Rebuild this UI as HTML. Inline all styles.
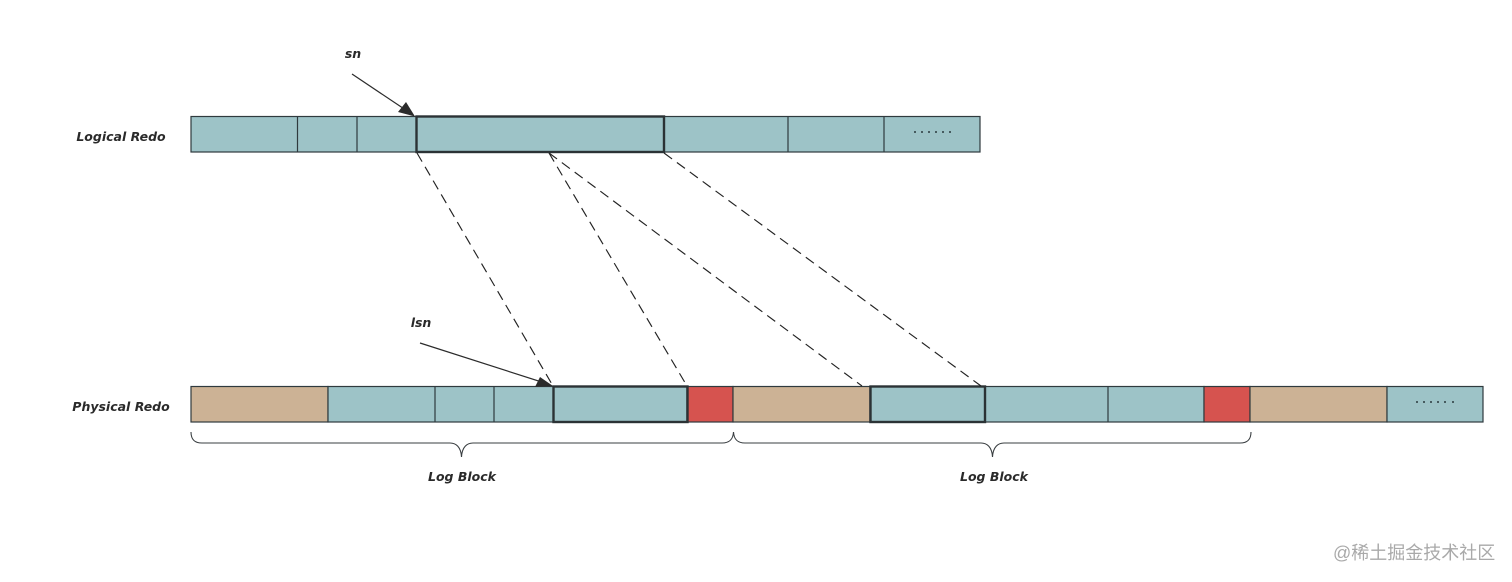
<!DOCTYPE html>
<html><head><meta charset="utf-8"><style>
html,body{margin:0;padding:0;background:#fff}
svg{display:block}
.l{font-family:"DejaVu Sans","Liberation Sans",sans-serif;font-style:italic;font-weight:bold;font-size:12.5px;fill:#2a2a2a;text-anchor:middle}
.c{stroke:#2f3a3e;stroke-width:1.2}
</style></head><body>
<svg width="1512" height="582" viewBox="0 0 1512 582" xmlns="http://www.w3.org/2000/svg">
<rect width="1512" height="582" fill="#fff"/>
<g class="c">
<rect x="191" y="116.5" width="789" height="35.5" fill="#9dc3c7"/>
<path d="M297.500 116.500V152M357 116.500V152M788 116.500V152M884 116.500V152" fill="none"/>
<rect x="191" y="386.5" width="137" height="35.5" fill="#ccb295"/>
<rect x="328" y="386.5" width="359" height="35.5" fill="#9dc3c7"/>
<rect x="687" y="386.5" width="46" height="35.5" fill="#d6534f"/>
<rect x="733" y="386.5" width="137" height="35.5" fill="#ccb295"/>
<rect x="870" y="386.5" width="334" height="35.5" fill="#9dc3c7"/>
<rect x="1204" y="386.5" width="46" height="35.5" fill="#d6534f"/>
<rect x="1250" y="386.5" width="137" height="35.5" fill="#ccb295"/>
<rect x="1387" y="386.5" width="96" height="35.5" fill="#9dc3c7"/>
<path d="M435 386.500V422M494 386.500V422M1108 386.500V422" fill="none"/>
</g>
<g fill="none" stroke="#2b3235" stroke-width="2.4">
<rect x="416.5" y="116.5" width="247.5" height="35.5"/>
<rect x="553.5" y="386.5" width="134" height="35.5"/>
<rect x="870.5" y="386.5" width="114.5" height="35.5"/>
</g>
<g fill="none" stroke="#222" stroke-width="1.15" stroke-dasharray="10 6">
<path d="M417 153L553 386"/>
<path d="M549 153L687 386"/>
<path d="M549 153L862 386"/>
<path d="M664 153L981 386"/>
</g>
<g stroke="#2b2b2b" stroke-width="1.2" fill="none">
<path d="M352 74L405 109.500"/>
<path d="M420 343L540 381.500"/>
</g>
<path d="M415 116.500L398 112L406 102Z" fill="#2b2b2b"/>
<path d="M553 386L535 387L540 377Z" fill="#2b2b2b"/>
<g fill="none" stroke="#3a3f42" stroke-width="1.1">
<path d="M191 432C191 440 195 443 202 443H450C456 443 461 447 461.500 457C462 447 467 443 473 443H722C729 443 733 440 733.500 432"/>
<path d="M733.500 432C734 440 738 443 745 443H981C987 443 992 447 992.500 457C993 447 998 443 1004 443H1240C1247 443 1251 440 1251 432"/>
</g>
<text class="l" x="353" y="58">sn</text>
<text class="l" x="421" y="327">lsn</text>
<text class="l" x="121" y="141">Logical Redo</text>
<text class="l" x="121" y="411">Physical Redo</text>
<text class="l" x="462" y="481">Log Block</text>
<text class="l" x="994" y="481">Log Block</text>
<g fill="#2b3a3e">
<circle cx="915" cy="132" r="1"/><circle cx="922" cy="132" r="1"/><circle cx="929" cy="132" r="1"/><circle cx="936" cy="132" r="1"/><circle cx="943" cy="132" r="1"/><circle cx="950" cy="132" r="1"/>
<circle cx="1417" cy="402" r="1"/><circle cx="1424" cy="402" r="1"/><circle cx="1431" cy="402" r="1"/><circle cx="1438" cy="402" r="1"/><circle cx="1445" cy="402" r="1"/><circle cx="1453" cy="402" r="1"/>
</g>
<text x="1333" y="559" font-family="'Liberation Sans','Noto Sans CJK SC',sans-serif" font-size="18" fill="#a9a9a9">@稀土掘金技术社区</text>
</svg>
</body></html>
